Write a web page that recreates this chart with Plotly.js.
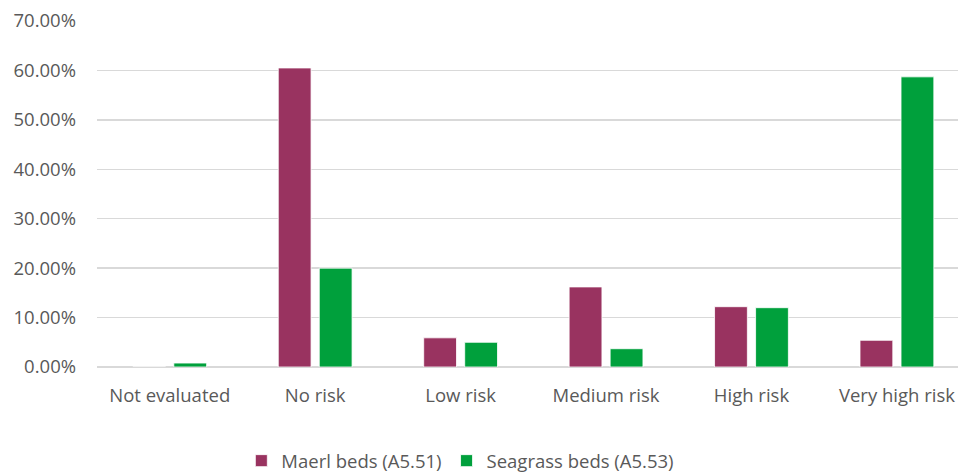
<!DOCTYPE html>
<html>
<head>
<meta charset="utf-8">
<script src="https://cdn.plot.ly/plotly-3.0.1.min.js"></script>
<style>html,body{margin:0;padding:0;background:#fff;}#chart{width:960px;height:472px;}</style>
</head>
<body>
<div id="chart"></div>
<script>
const categories = ["Not evaluated", "No risk", "Low risk", "Medium risk", "High risk", "Very high risk"];
const maerlValues = [0, 0.605, 0.059, 0.162, 0.122, 0.054];
const seagrassValues = [0.008, 0.200, 0.050, 0.037, 0.120, 0.587];
const seriesNames = ["Maerl beds (A5.51)", "Seagrass beds (A5.53)"];
const yTicks = [0, 0.1, 0.2, 0.3, 0.4, 0.5, 0.6, 0.7];

const font = {family: "Open Sans, Noto Sans, sans-serif", size: 18.5, color: "#595959"};

const traces = [
  {type: "bar", name: seriesNames[0], x: categories, y: maerlValues,
   marker: {color: "#993360", line: {color: "#ffffff", width: 0.8}}},
  {type: "bar", name: seriesNames[1], x: categories, y: seagrassValues,
   marker: {color: "#00A03C", line: {color: "#ffffff", width: 0.8}}}
];

const layout = {
  width: 960, height: 472,
  margin: {l: 97, r: 2, t: 21, b: 105, autoexpand: false},
  paper_bgcolor: "#ffffff", plot_bgcolor: "#ffffff",
  barmode: "group", bargap: 0.436, bargroupgap: 0.2,
  font: font,
  showlegend: true,
  legend: {orientation: "h", x: 0.422, xanchor: "center", xref: "paper",
           y: -0.272, yanchor: "middle", font: font, itemwidth: 30, traceorder: "normal"},
  xaxis: {type: "category", range: [-0.5, 5.42], showgrid: false, zeroline: false, automargin: false,
          showline: false, ticks: "", ticklabelstandoff: 15, tickfont: font, fixedrange: true},
  yaxis: {range: [0, 0.70], tickvals: yTicks, tickformat: ".2%", showgrid: true, automargin: false,
          gridcolor: "#d9d9d9", gridwidth: 1.5, zeroline: true, zerolinecolor: "#d9d9d9",
          zerolinewidth: 1.5, showline: false, ticks: "", ticklabelstandoff: 20,
          tickfont: font, fixedrange: true}
};

Plotly.newPlot("chart", traces, layout, {displayModeBar: false, staticPlot: true});
</script>
</body>
</html>
